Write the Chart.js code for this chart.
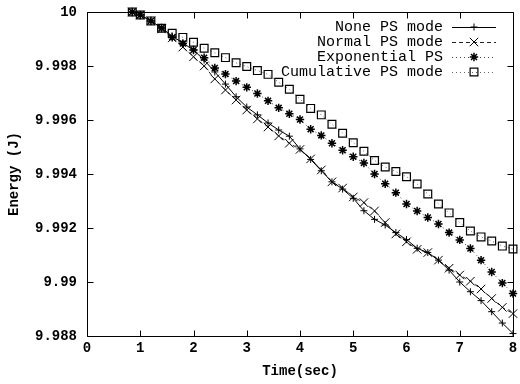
<!DOCTYPE html>
<html>
<head>
<meta charset="utf-8">
<script src="https://cdn.jsdelivr.net/npm/chart.js@4.4.0/dist/chart.umd.min.js"></script>
<style>
  html, body { margin: 0; padding: 0; background: #fff; }
  canvas { display: block; }
</style>
</head>
<body>
<canvas id="energyChart" width="520" height="384"></canvas>
<script>
// ---- data ----
const times = [0.85, 1, 1.2, 1.4, 1.6, 1.8, 2, 2.2, 2.4, 2.6, 2.8, 3, 3.2, 3.4, 3.6, 3.8,
  4, 4.2, 4.4, 4.6, 4.8, 5, 5.2, 5.4, 5.6, 5.8, 6, 6.2, 6.4, 6.6, 6.8, 7, 7.2, 7.4, 7.6, 7.8, 8];

const noneMode = [10.0, 9.99989, 9.99967, 9.99941, 9.99911, 9.99885, 9.99859, 9.99822, 9.99778,
  9.99733, 9.99686, 9.99648, 9.99619, 9.99589, 9.99563, 9.9954, 9.99493, 9.99454, 9.99412,
  9.99371, 9.99344, 9.9931, 9.99264, 9.99232, 9.99211, 9.99183, 9.99157, 9.99125, 9.99109,
  9.99081, 9.99044, 9.99, 9.98964, 9.98931, 9.9889, 9.98848, 9.98809];

const normalMode = [10.0, 9.99989, 9.99967, 9.99937, 9.99904, 9.9987, 9.99834, 9.998, 9.99752,
  9.99711, 9.99674, 9.99637, 9.99604, 9.99574, 9.99541, 9.99514, 9.99491, 9.99456, 9.99415,
  9.99371, 9.99348, 9.99315, 9.99294, 9.99263, 9.9922, 9.99178, 9.99149, 9.99121, 9.99109,
  9.99081, 9.99051, 9.99026, 9.99003, 9.98974, 9.98939, 9.98906, 9.98883];

const exponentialPS = [10.0, 9.99989, 9.99967, 9.99941, 9.99906, 9.99883, 9.99859, 9.99831, 9.99793,
  9.9977, 9.99744, 9.99721, 9.99698, 9.99671, 9.99645, 9.99623, 9.99602, 9.99566, 9.99543,
  9.99514, 9.99488, 9.99464, 9.99441, 9.994, 9.99364, 9.99331, 9.99289, 9.99263, 9.99239,
  9.99215, 9.99183, 9.99156, 9.99124, 9.99081, 9.99037, 9.98996, 9.98957];

const cumulativeMode = [10.0, 9.99989, 9.99967, 9.9994, 9.99921, 9.99906, 9.99888, 9.99866, 9.99849,
  9.99831, 9.99812, 9.99798, 9.99783, 9.99769, 9.9974, 9.99714, 9.99677, 9.99643, 9.99619,
  9.99584, 9.99551, 9.99516, 9.99484, 9.9945, 9.99426, 9.99409, 9.9939, 9.99363, 9.99326,
  9.99289, 9.99256, 9.9922, 9.99189, 9.99167, 9.99152, 9.99133, 9.99122];

const seriesNames = ["None PS mode", "Normal PS mode", "Exponential PS", "Cumulative PS mode"];

const monoFont = "'Liberation Mono', 'Courier New', 'DejaVu Sans Mono', monospace";
const tickFont = { family: monoFont, size: 14, weight: 'bold' };

function toPoints(values) {
  return times.map((t, i) => ({ x: t, y: values[i] }));
}

// ---- gnuplot style frame, inward ticks and legend ----
const framePlugin = {
  id: 'frame',
  afterDatasetsDraw(chart) {
    const ctx = chart.ctx;
    const a = chart.chartArea;
    const xs = chart.scales.x;
    const ys = chart.scales.y;
    const L = Math.round(a.left) + 0.5, R = Math.round(a.right) + 0.5;
    const T = Math.round(a.top) + 0.5, B = Math.round(a.bottom) + 0.5;
    const tl = 6;

    ctx.save();
    ctx.strokeStyle = '#000';
    ctx.lineWidth = 1;
    ctx.setLineDash([]);
    ctx.beginPath();
    ctx.rect(L, T, R - L, B - T);
    xs.ticks.forEach(t => {
      const px = Math.round(xs.getPixelForValue(t.value)) + 0.5;
      ctx.moveTo(px, B); ctx.lineTo(px, B - tl);
      ctx.moveTo(px, T); ctx.lineTo(px, T + tl);
    });
    ys.ticks.forEach(t => {
      const py = Math.round(ys.getPixelForValue(t.value)) + 0.5;
      ctx.moveTo(L, py); ctx.lineTo(L + tl, py);
      ctx.moveTo(R, py); ctx.lineTo(R - tl, py);
    });
    ctx.stroke();

    // legend: text right aligned, sample on the right
    ctx.font = "15px " + monoFont;
    ctx.textAlign = 'right';
    ctx.textBaseline = 'middle';
    chart.data.datasets.forEach((ds, i) => {
      const y = 27 + i * 15;
      ctx.fillStyle = '#000';
      ctx.fillText(ds.label, 443, y);
      ctx.strokeStyle = ds.borderColor;
      ctx.lineWidth = ds.borderWidth;
      ctx.setLineDash(ds.borderDash || []);
      ctx.beginPath();
      ctx.moveTo(452, y + 0.5);
      ctx.lineTo(496, y + 0.5);
      ctx.stroke();
      ctx.setLineDash([]);
      ctx.strokeStyle = '#000';
      ctx.fillStyle = ds.pointBackgroundColor;
      ctx.lineWidth = ds.pointBorderWidth;
      Chart.helpers.drawPoint(ctx, {
        pointStyle: ds.pointStyle,
        radius: ds.pointRadius,
        rotation: 0,
        borderWidth: ds.pointBorderWidth
      }, 474, y);
    });
    ctx.restore();
  }
};

new Chart(document.getElementById("energyChart"), {
  type: "line",
  data: {
    datasets: [{
      label: seriesNames[0],
      data: toPoints(noneMode),
      borderColor: "#000",
      borderWidth: 1,
      pointStyle: "cross",
      pointRadius: 3.5,
      pointBorderColor: "#000",
      pointBackgroundColor: "rgba(0,0,0,0)",
      pointBorderWidth: 1,
      clip: false
    }, {
      label: seriesNames[1],
      data: toPoints(normalMode),
      borderColor: "#222",
      borderWidth: 1,
      borderDash: [4, 3],
      pointStyle: "crossRot",
      pointRadius: 6,
      pointBorderColor: "#000",
      pointBackgroundColor: "rgba(0,0,0,0)",
      pointBorderWidth: 1,
      clip: false
    }, {
      label: seriesNames[2],
      data: toPoints(exponentialPS),
      borderColor: "#444",
      borderWidth: 1,
      borderDash: [1, 3],
      pointStyle: "star",
      pointRadius: 4.2,
      pointBorderColor: "#000",
      pointBackgroundColor: "rgba(0,0,0,0)",
      pointBorderWidth: 1.5,
      clip: false
    }, {
      label: seriesNames[3],
      data: toPoints(cumulativeMode),
      borderColor: "#666",
      borderWidth: 1,
      borderDash: [1, 3],
      pointStyle: "rect",
      pointRadius: 5.5,
      pointBorderColor: "#000",
      pointBackgroundColor: "rgba(0,0,0,0)",
      pointBorderWidth: 1.2,
      clip: false
    }]
  },
  options: {
    responsive: false,
    animation: false,
    devicePixelRatio: 1,
    layout: { padding: { top: 12, right: 5, left: 0, bottom: 0 } },
    plugins: {
      legend: { display: false },
      tooltip: { enabled: false }
    },
    scales: {
      x: {
        type: "linear",
        min: 0,
        max: 8,
        ticks: { stepSize: 1, color: "#000", font: tickFont, padding: 4, maxRotation: 0 },
        grid: { display: false, drawTicks: false },
        border: { display: false },
        title: { display: true, text: "Time(sec)", color: "#000", font: tickFont, padding: 4 },
        afterFit(scale) {
          scale.height = 48;
          scale.paddingLeft = 0;
          scale.paddingRight = 0;
        }
      },
      y: {
        min: 9.988,
        max: 10,
        ticks: {
          stepSize: 0.002,
          color: "#000",
          font: tickFont,
          padding: 10,
          callback: v => String(+Number(v).toFixed(3))
        },
        grid: { display: false, drawTicks: false },
        border: { display: false },
        title: { display: true, text: "Energy (J)", color: "#000", font: tickFont, padding: 6 },
        afterFit(scale) {
          scale.width = 87;
          scale.paddingTop = 0;
          scale.paddingBottom = 0;
        }
      }
    }
  },
  plugins: [framePlugin]
});
</script>
</body>
</html>
